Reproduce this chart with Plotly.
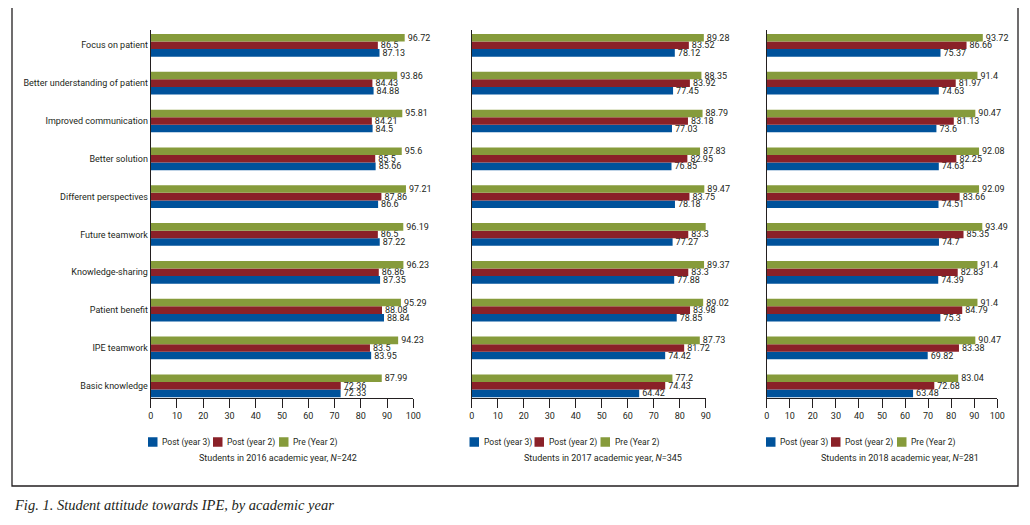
import plotly.graph_objects as go

# category labels, top to bottom as printed
items = ["Focus on patient", "Better understanding of patient", "Improved communication",
         "Better solution", "Different perspectives", "Future teamwork",
         "Knowledge-sharing", "Patient benefit", "IPE teamwork", "Basic knowledge"]

series_names = ["Post (year 3)", "Post (year 2)", "Pre (Year 2)"]
colors = ["#00529b", "#8a2128", "#869b3b"]

# 2016
post3_2016 = [87.13, 84.88, 84.5, 85.66, 86.6, 87.22, 87.35, 88.84, 83.95, 72.33]
post2_2016 = [86.5, 84.43, 84.21, 85.5, 87.86, 86.5, 86.86, 88.08, 83.5, 72.36]
pre_2016 = [96.72, 93.86, 95.81, 95.6, 97.21, 96.19, 96.23, 95.29, 94.23, 87.99]
# 2017
post3_2017 = [78.12, 77.45, 77.03, 76.85, 78.18, 77.27, 77.88, 78.85, 74.42, 64.42]
post2_2017 = [83.52, 83.92, 83.18, 82.95, 83.75, 83.3, 83.3, 83.98, 81.72, 74.43]
pre_2017 = [89.28, 88.35, 88.79, 87.83, 89.47, 90.53, 89.37, 89.02, 87.73, 77.2]
# 2018
post3_2018 = [75.37, 74.63, 73.6, 74.63, 74.51, 74.7, 74.39, 75.3, 69.82, 63.48]
post2_2018 = [86.66, 81.97, 81.13, 82.25, 83.66, 85.35, 82.83, 84.79, 83.38, 72.68]
pre_2018 = [93.72, 91.4, 90.47, 92.08, 92.09, 93.49, 91.4, 91.4, 90.47, 83.04]

subtitles = ["Students in 2016 academic year, <i>N</i>=242",
             "Students in 2017 academic year, <i>N</i>=345",
             "Students in 2018 academic year, <i>N</i>=281"]
x_max = [100, 90, 100]

panels = [
    [post3_2016, post2_2016, pre_2016],
    [post3_2017, post2_2017, pre_2017],
    [post3_2018, post2_2018, pre_2018],
]

# page body adds an 8px margin, so the figure is shrunk and shifted by it
OFF = 8
W, H = 1030 - OFF, 525 - OFF
FONT = "Roboto, Lato, sans-serif"
FS = 9
INK = "#231f20"


def fx(px):
    return (px - OFF) / W


def fy(py):
    return 1 - (py - OFF) / H


# screen-pixel layout of the three panels
x_px = [(150.7, 413.3), (471.7, 705.7), (766.7, 997.3)]
top_px, bot_px = 30, 398
legend_px = [148, 469.5, 766]
legend_step = [0, 65, 131]
sub_px = [278, 603, 900]

cats = items[::-1]  # bottom to top

fig = go.Figure()
for p, data in enumerate(panels):
    xa = "x" if p == 0 else f"x{p + 1}"
    ya = "y" if p == 0 else f"y{p + 1}"
    for name, vals, col in zip(series_names, data, colors):
        v = vals[::-1]
        fig.add_trace(go.Bar(
            y=cats, x=v, name=name, orientation="h",
            marker=dict(color=col, line=dict(width=0)),
            text=[f"{a:g}" for a in v], textposition="outside",
            textfont=dict(family=FONT, size=FS, color=INK),
            constraintext="none", cliponaxis=False,
            xaxis=xa, yaxis=ya, showlegend=False,
        ))

layout = dict(
    width=W, height=H, margin=dict(l=0, r=0, t=0, b=0),
    paper_bgcolor="white", plot_bgcolor="white",
    barmode="group", bargap=0.4, bargroupgap=0,
    font=dict(family=FONT, size=FS, color=INK),
    showlegend=False,
)
for p in range(3):
    sfx = "" if p == 0 else str(p + 1)
    x0, x1 = x_px[p]
    layout["xaxis" + sfx] = dict(
        domain=[fx(x0), fx(x1)], range=[0, x_max[p]], dtick=10,
        anchor="y" + sfx, showgrid=False, zeroline=False,
        showline=True, linecolor=INK, linewidth=1,
        ticks="outside", ticklen=9, tickcolor=INK, tickwidth=1,
        tickfont=dict(family=FONT, size=FS, color=INK), automargin=False,
    )
    layout["yaxis" + sfx] = dict(
        domain=[fy(bot_px), fy(top_px)], anchor="x" + sfx,
        type="category", range=[-0.323, 9.405],
        showgrid=False, zeroline=False, showline=True, linecolor=INK, linewidth=1,
        ticks="", showticklabels=(p == 0), automargin=False,
        tickfont=dict(family=FONT, size=FS, color=INK),
    )
fig.update_layout(**layout)

# per-panel key and caption under each axis
sq = 9.5
for p in range(3):
    for k, (name, col) in enumerate(zip(series_names, colors)):
        lx = legend_px[p] + legend_step[k]
        fig.add_shape(type="rect", xref="paper", yref="paper",
                      x0=fx(lx), x1=fx(lx + sq),
                      y0=fy(442 + sq / 2), y1=fy(442 - sq / 2),
                      line=dict(width=0), fillcolor=col)
        fig.add_annotation(text=name, xref="paper", yref="paper",
                           x=fx(lx + sq + 2.5), y=fy(442),
                           xanchor="left", yanchor="middle", showarrow=False,
                           font=dict(family=FONT, size=8.5, color=INK))
    fig.add_annotation(
        text=subtitles[p], xref="paper", yref="paper",
        x=fx(sub_px[p]), y=fy(458), xanchor="center", yanchor="middle",
        showarrow=False, font=dict(family=FONT, size=FS, color=INK),
    )

fig.add_annotation(
    text="<i>Fig. 1. Student attitude towards IPE, by academic year</i>",
    xref="paper", yref="paper", x=fx(12), y=fy(505),
    xanchor="left", yanchor="middle", showarrow=False,
    font=dict(family="Liberation Serif, serif", size=14.5, color=INK),
)

# outer frame
fig.add_shape(type="rect", xref="paper", yref="paper",
              x0=fx(12), x1=fx(1018), y0=fy(486), y1=fy(7),
              line=dict(color=INK, width=1.3), fillcolor="rgba(0,0,0,0)")

fig.write_html("out.html")
